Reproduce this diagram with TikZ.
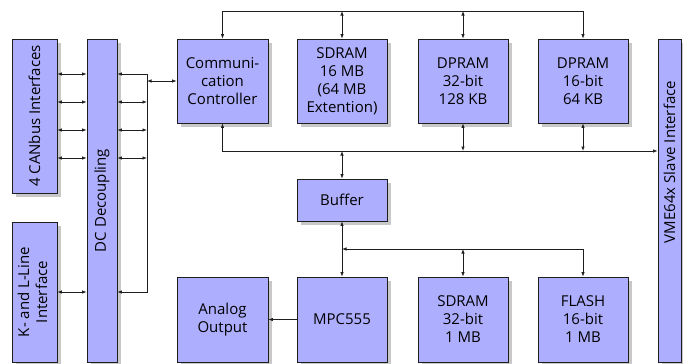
\documentclass[tikz,border=0pt]{standalone}
\usepackage{fontspec}
\setmainfont{Open Sans}
\usetikzlibrary{arrows.meta,shadows}
\definecolor{boxblue}{RGB}{174,174,255}
\definecolor{shadowgray}{RGB}{200,200,200}
\definecolor{linecol}{RGB}{30,30,30}
\newcommand{\boxfont}{\fontsize{15bp}{18bp}\selectfont}
\begin{document}
\begin{tikzpicture}[x=1bp,y=-1bp,
  box/.style={draw=linecol, fill=boxblue, line width=0.7bp, inner sep=0pt,
    align=center, font=\boxfont,
    drop shadow={shadow xshift=4bp, shadow yshift=-4bp, fill=shadowgray, opacity=1}},
  link/.style={draw=linecol, line width=0.7bp},
  both/.style={{Latex[length=4.5bp,width=3.4bp]}-{Latex[length=4.5bp,width=3.4bp]}},
  one/.style={-{Latex[length=4.5bp,width=3.4bp]}},
  lbl/.style={inner sep=0pt, font=\boxfont, align=center}
]
\useasboundingbox (0,0) rectangle (683,363);
\begin{scope}
\clip (0,0) rectangle (683,363);
% boxes
\node[box, minimum width=45bp, minimum height=154bp] (can) at (34.5,116) {\rotatebox{90}{4 CANbus Interfaces}};
\node[box, minimum width=45bp, minimum height=140bp] (kline) at (34.5,292) {\rotatebox{90}{\begin{tabular}{@{}c@{}}K- and L-Line\\Interface\end{tabular}}};
\node[box, minimum width=30bp, minimum height=323bp] (dc) at (102,200.5) {\rotatebox{90}{DC Decoupling}};
\node[box, minimum width=91bp, minimum height=84bp] (comm) at (222.5,81) {Communi-\\cation\\Controller};
\node[box, minimum width=90bp, minimum height=84bp] (sdram) at (342,81) {SDRAM\\16 MB\\(64 MB\\Extention)};
\node[box, minimum width=90bp, minimum height=84bp] (dp32) at (463,81) {DPRAM\\32-bit\\128 KB};
\node[box, minimum width=90bp, minimum height=84bp] (dp16) at (583,81) {DPRAM\\16-bit\\64 KB};
\node[box, minimum width=23bp, minimum height=323bp] (vme) at (669.5,200.5) {};
\node[lbl] (vmelbl) at (669.5,162) {\rotatebox{90}{VME64x Slave Interface}};
\node[box, minimum width=90bp, minimum height=42bp] (buffer) at (342,200) {Buffer};
\node[box, minimum width=91bp, minimum height=85bp] (analog) at (222.5,319.5) {Analog\\Output};
\node[box, minimum width=90bp, minimum height=85bp] (mpc) at (342,319.5) {MPC555};
\node[box, minimum width=90bp, minimum height=85bp] (sdram32) at (463,319.5) {SDRAM\\32-bit\\1 MB};
\node[box, minimum width=90bp, minimum height=85bp] (flash) at (583,319.5) {FLASH\\16-bit\\1 MB};
\end{scope}
% helper coordinates
\coordinate (r1) at (0,74);
\coordinate (r2) at (0,102);
\coordinate (r3) at (0,130);
\coordinate (r4) at (0,158);
\coordinate (rk) at (0,292);
\coordinate (vx) at (147,0);
\coordinate (tb) at (0,11);
\coordinate (mb) at (0,151);
\coordinate (lb) at (0,249);
% CAN <-> DC
\foreach \r in {r1,r2,r3,r4}{
  \draw[link,both] (can.east |- \r) -- (dc.west |- \r);
}
\draw[link,both] (kline.east |- rk) -- (dc.west |- rk);
% DC right side
\draw[link,both] (dc.east |- r1) -- (vx |- r1) -- (vx |- rk) -- (dc.east |- rk);
\foreach \r in {r2,r3,r4}{
  \draw[link,both] (dc.east |- \r) -- (vx |- \r);
}
\draw[link,both] (vx |- comm.west) -- (comm.west);
% top bus
\draw[link,both] (comm.north) -- (comm.north |- tb) -- (dp16.north |- tb) -- (dp16.north);
\draw[link,both] (sdram.north |- tb) -- (sdram.north);
\draw[link,both] (dp32.north |- tb) -- (dp32.north);
% middle bus
\draw[link,both] (comm.south) -- (comm.south |- mb) -- (vme.west |- mb);
\draw[link,both] (dp32.south) -- (dp32.south |- mb);
\draw[link,both] (dp16.south) -- (dp16.south |- mb);
\draw[link,both] (buffer.north |- mb) -- (buffer.north);
% lower bus
\draw[link,both] (buffer.south) -- (mpc.north);
\draw[link,both] (buffer.south |- lb) -- (flash.north |- lb) -- (flash.north);
\draw[link,both] (sdram32.north |- lb) -- (sdram32.north);
\draw[link,one] (mpc.west) -- (analog.east);
\end{tikzpicture}
\end{document}
